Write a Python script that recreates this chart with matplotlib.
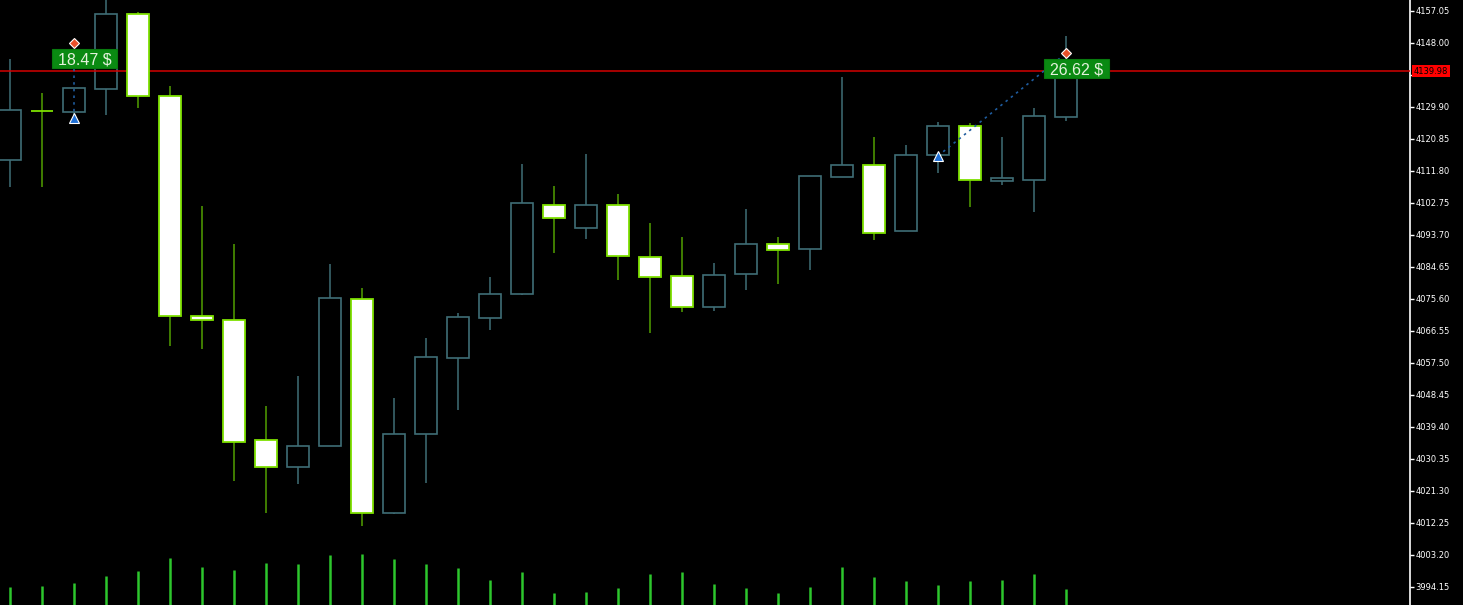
import matplotlib
matplotlib.use("Agg")
import matplotlib.pyplot as plt
from matplotlib.patches import Rectangle
import matplotlib.transforms as mtransforms

# ---------------- data ----------------
opens  = [4114.9, 4128.8, 4128.4, 4134.9, 4156.0, 4133.0, 4070.8, 4069.7, 4035.5, 4028.0,
          4034.0, 4075.6, 4015.1, 4037.3, 4058.9, 4070.2, 4077.0, 4102.2, 4095.7, 4102.2,
          4087.5, 4082.1, 4073.3, 4082.7, 4091.2, 4089.7, 4110.1, 4113.5, 4094.8, 4116.2,
          4124.5, 4109.0, 4109.3, 4127.1]
highs  = [4143.3, 4133.7, 4135.3, 4162.0, 4156.6, 4135.8, 4101.7, 4091.0, 4045.2, 4053.7,
          4085.3, 4078.6, 4047.4, 4064.4, 4071.5, 4081.7, 4113.6, 4107.4, 4116.4, 4105.1,
          4096.9, 4093.0, 4085.6, 4100.9, 4093.0, 4110.4, 4138.2, 4121.3, 4119.0, 4125.5,
          4125.2, 4121.3, 4129.5, 4149.9]
lows   = [4107.2, 4107.2, 4127.6, 4127.6, 4129.5, 4062.2, 4061.4, 4024.1, 4015.0, 4023.2,
          4033.9, 4011.3, 4014.7, 4023.5, 4044.1, 4066.8, 4076.7, 4088.5, 4092.5, 4080.9,
          4065.9, 4071.8, 4072.1, 4078.1, 4079.8, 4083.7, 4110.1, 4092.2, 4094.8, 4111.2,
          4101.5, 4107.8, 4100.1, 4125.9]
closes = [4128.9, 4128.8, 4135.1, 4156.0, 4132.9, 4070.8, 4069.7, 4035.1, 4028.0, 4034.0,
          4075.9, 4015.1, 4037.3, 4059.2, 4070.3, 4076.9, 4102.6, 4098.4, 4102.2, 4087.8,
          4081.8, 4073.3, 4082.4, 4091.2, 4089.5, 4110.4, 4113.5, 4094.3, 4116.3, 4124.5,
          4109.3, 4109.7, 4127.4, 4139.98]
volumes = [177, 187, 217, 287, 337, 467, 377, 347, 417, 407,
           497, 507, 457, 407, 367, 247, 327, 117, 127, 167,
           307, 327, 207, 167, 117, 177, 377, 277, 237, 197,
           237, 247, 307, 157]

current_price = 4139.98
price_ticks = ["3994.15", "4003.20", "4012.25", "4021.30", "4030.35", "4039.40", "4048.45",
               "4057.50", "4066.55", "4075.60", "4084.65", "4093.70", "4102.75", "4111.80",
               "4120.85", "4129.90", "4138.95", "4148.00", "4157.05"]

# trades: entry bar/price, exit bar/price, profit label
trade_entry_bar = [2, 29]
trade_entry_px = [4126.8, 4116.0]
trade_exit_bar = [2, 33]
trade_exit_px = [4147.9, 4145.0]
trade_profit = ["18.47 $", "26.62 $"]

# ---------------- figure ----------------
W, H = 1463, 605
AXW = 1410
fig = plt.figure(figsize=(W / 100, H / 100), dpi=100, facecolor="black")
ax = fig.add_axes([0, 0, AXW / W, 1])
ax.set_facecolor("black")

spacing = 32.0
xmin = -10 / spacing
ax.set_xlim(xmin, xmin + AXW / spacing)
ax.set_ylim(3988.97, 4160.08)

bull_col = "#3f6e76"
bear_edge = "#7ee000"
bear_wick = "#52a000"
body_w = 0.66

for i, (o, h, l, c) in enumerate(zip(opens, highs, lows, closes)):
    top, bot = max(o, c), min(o, c)
    bull = c > o
    wc = bull_col if bull else bear_wick
    ax.plot([i, i], [top, h], color=wc, lw=1.1, zorder=2, solid_capstyle="butt")
    ax.plot([i, i], [l, bot], color=wc, lw=1.1, zorder=2, solid_capstyle="butt")
    if bull:
        r = Rectangle((i - body_w / 2, bot), body_w, top - bot, facecolor="none",
                      edgecolor=bull_col, lw=1.2, zorder=2)
    else:
        r = Rectangle((i - body_w / 2, bot), body_w, top - bot, facecolor="white",
                      edgecolor=bear_edge, lw=1.3, zorder=4)
    ax.add_patch(r)

# current price line
ax.axhline(current_price, color="#d40000", lw=1.1, zorder=3)

# trades
lab_dx, lab_dy = 0.33, -4.3      # label offset from exit marker
box_w, box_h = 2.04, 5.45
for eb, ep, xb, xp, lab in zip(trade_entry_bar, trade_entry_px, trade_exit_bar,
                               trade_exit_px, trade_profit):
    ax.plot([eb, xb], [ep, xp], color="#1f5c9e", lw=1.2, ls=(0, (1.5, 2.5)), zorder=5)
    ax.plot([eb], [ep], marker="^", ms=6.5, color="#1e6fd6", mec="white", mew=0.8, zorder=6)
    ax.plot([xb], [xp], marker="D", ms=5, color="#e8502a", mec="white", mew=0.8, zorder=6)
    cx, cy = xb + lab_dx, xp + lab_dy
    ax.add_patch(Rectangle((cx - box_w / 2, cy - box_h / 2), box_w, box_h,
                           facecolor="#0a8a12", edgecolor="#087a0e", lw=0.8, zorder=7))
    ax.text(cx, cy, lab, fontsize=11.5, family="Liberation Sans", color="#e4f2dc",
            ha="center", va="center_baseline", zorder=8)

# price scale
ax.yaxis.tick_right()
ax.set_yticks([float(t) for t in price_ticks])
# the 4138.95 label sits under the current-price label
ax.set_yticklabels([t if abs(float(t) - current_price) > 3 else "" for t in price_ticks])
ax.tick_params(axis="y", colors="white", length=3, width=1, pad=1, labelsize=6)
ax.set_xticks([])
for s in ["top", "left", "bottom"]:
    ax.spines[s].set_visible(False)
ax.spines["right"].set_color("white")
ax.spines["right"].set_linewidth(1.2)

trans = mtransforms.blended_transform_factory(ax.transAxes, ax.transData)
ax.text(1 + 4 / AXW, current_price, f"{current_price:.2f}", transform=trans,
        fontsize=6, color="black", ha="left", va="center", zorder=10, clip_on=False,
        bbox=dict(boxstyle="square,pad=0.2", fc="#ff0000", ec="none"))

# volumes
axv = fig.add_axes([0, 0, AXW / W, 65 / H])
axv.set_facecolor("none")
axv.set_xlim(ax.get_xlim())
axv.set_ylim(0, 650)
axv.vlines(range(len(volumes)), 0, volumes, color="#2dc62d", lw=1.8)
axv.axis("off")

fig.savefig("out.png", dpi=100, facecolor="black")
